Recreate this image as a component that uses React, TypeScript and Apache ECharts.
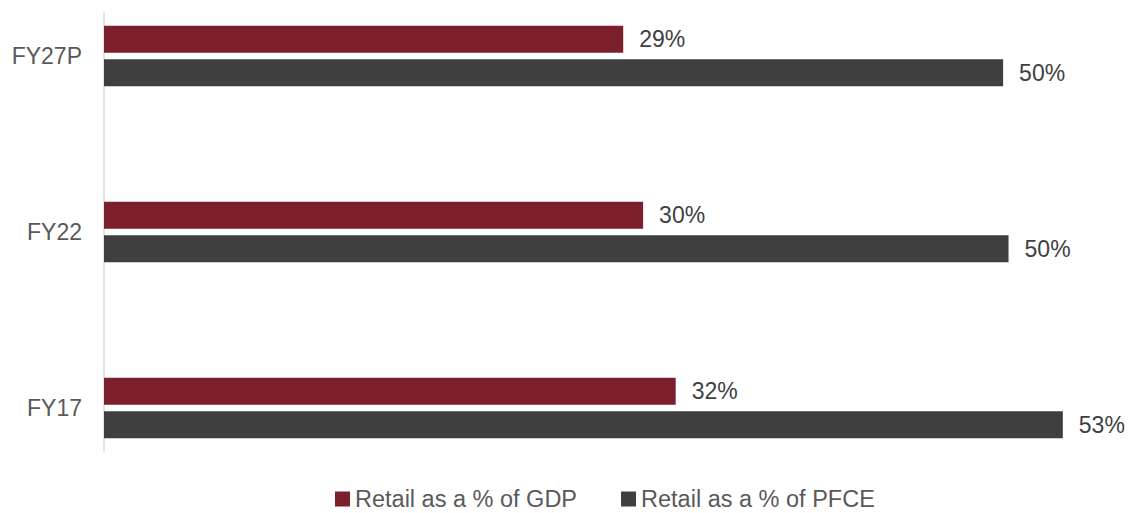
import React, { useEffect, useRef } from "react";
import * as echarts from "echarts";

const categories = ["FY17", "FY22", "FY27P"];
const gdpName = "Retail as a % of GDP";
const pfceName = "Retail as a % of PFCE";
const gdpValues = [31.6, 29.8, 28.7];
const pfceValues = [53.0, 50.0, 49.7];

const FONT = "'Liberation Sans', Arial, sans-serif";
const GDP_COLOR = "#7A1F2B";
const PFCE_COLOR = "#3F3F3F";

export default function App() {
  const ref = useRef<HTMLDivElement>(null);
  useEffect(() => {
    if (!ref.current) return;
    const chart = echarts.init(ref.current, null, { renderer: "svg" });
    const label = {
      show: true,
      position: "right",
      distance: 16,
      color: "#404040",
      fontSize: 23,
      fontFamily: FONT,
      formatter: (p: any) => Math.round(p.value) + "%",
    };
    chart.setOption({
      animation: false,
      textStyle: { fontFamily: FONT },
      grid: {
        left: 104,
        right: 30,
        top: -32,
        height: 528,
        containLabel: false,
        outerBoundsMode: "none",
      },
      legend: {
        data: [gdpName, pfceName],
        left: 330,
        top: 482,
        itemWidth: 15,
        itemHeight: 15,
        itemGap: 44,
        icon: "rect",
        textStyle: { fontSize: 23.5, color: "#595959", fontFamily: FONT },
      },
      xAxis: {
        type: "value",
        min: 0,
        max: 55,
        show: false,
      },
      yAxis: {
        type: "category",
        data: categories,
        axisLine: { show: false },
        axisTick: { show: false },
        splitLine: { show: false },
        axisLabel: { margin: 22, fontSize: 23, color: "#595959", fontFamily: FONT },
      },
      graphic: [
        {
          type: "line",
          shape: { x1: 104, y1: 12, x2: 104, y2: 452 },
          style: { stroke: "#D9D9D9", lineWidth: 1.5 },
          silent: true,
        },
      ],
      series: [
        {
          name: gdpName,
          type: "bar",
          data: gdpValues,
          barWidth: 27,
          barGap: "24%",
          itemStyle: { color: GDP_COLOR },
          label,
        },
        {
          name: pfceName,
          type: "bar",
          data: pfceValues,
          barWidth: 27,
          barGap: "24%",
          itemStyle: { color: PFCE_COLOR },
          label,
        },
      ],
    });
    return () => chart.dispose();
  }, []);
  return (
    <div
      ref={ref}
      style={{ position: "absolute", left: 0, top: 0, width: 1129, height: 513 }}
    />
  );
}
